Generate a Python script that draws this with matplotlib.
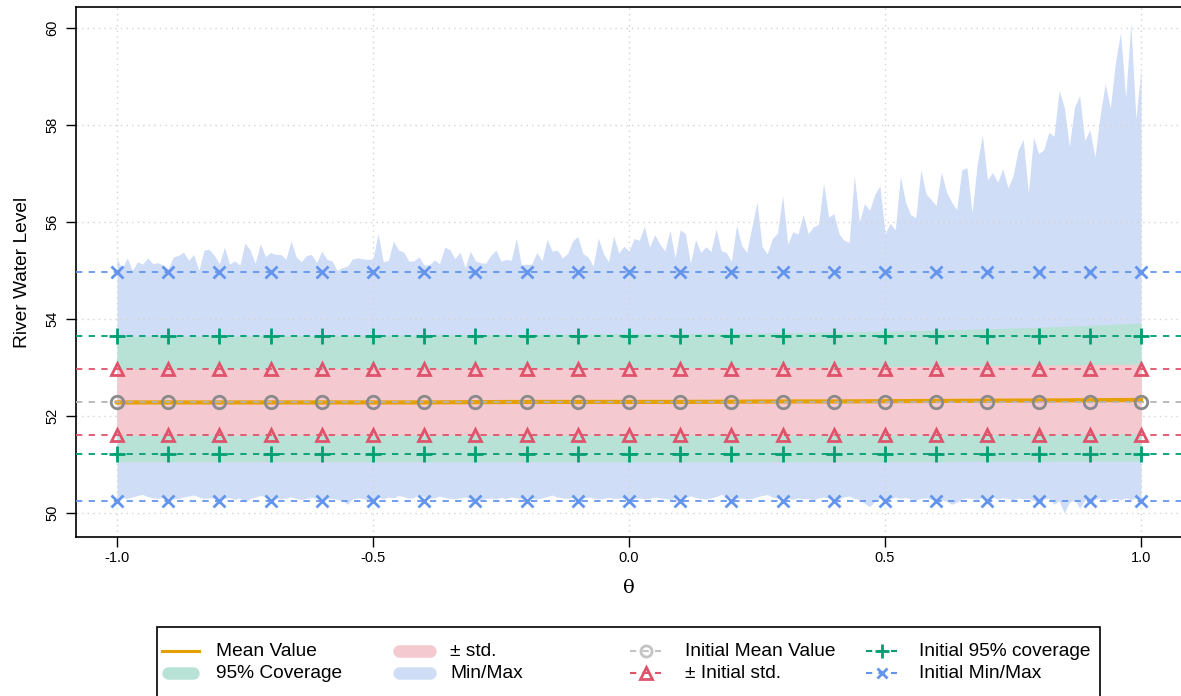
import numpy as np
import matplotlib
matplotlib.use("Agg")
import matplotlib.pyplot as plt
from matplotlib.lines import Line2D
from matplotlib.patches import Rectangle

plt.rcParams['font.family'] = ['Liberation Sans', 'DejaVu Sans']

# fine grid of theta used for the min/max envelope
theta = np.round(np.arange(-100, 101) / 100, 2)

max_vals = [
    55.24, 55.04, 55.26, 55.00, 55.18, 55.13, 55.26, 55.14, 55.16, 55.11,
    55.04, 55.28, 55.31, 55.38, 55.21, 55.33, 55.00, 55.42, 55.44, 55.31,
    55.14, 55.48, 55.13, 55.20, 55.11, 55.57, 55.42, 55.15, 55.55, 55.29,
    55.37, 55.33, 55.33, 55.23, 55.61, 55.28, 55.18, 55.31, 55.33, 55.16,
    55.40, 55.23, 55.20, 55.00, 55.06, 55.09, 55.24, 55.26, 55.24, 55.23,
    55.24, 55.76, 55.18, 55.21, 55.61, 55.42, 55.38, 55.19, 55.20, 55.28,
    55.11, 55.12, 55.22, 55.14, 55.48, 55.43, 55.24, 55.38, 55.06, 55.40,
    55.20, 55.16, 55.15, 55.31, 55.42, 55.19, 55.23, 55.21, 55.66, 55.11,
    55.13, 55.13, 55.37, 55.20, 55.64, 55.40, 55.42, 55.26, 55.35, 55.61,
    55.70, 55.35, 55.28, 55.09, 55.67, 55.35, 55.18, 55.71, 55.36, 55.50,
    55.40, 55.66, 55.62, 55.91, 55.48, 55.74, 55.55, 55.40, 55.83, 55.26,
    55.84, 55.76, 55.15, 55.64, 55.37, 55.49, 55.39, 55.86, 55.41, 55.37,
    55.19, 55.93, 55.52, 55.37, 55.90, 56.41, 55.49, 55.34, 55.66, 55.77,
    56.55, 55.54, 55.80, 55.75, 56.15, 55.76, 55.90, 55.95, 56.80, 56.10,
    56.17, 55.76, 55.62, 55.58, 56.96, 56.00, 56.38, 56.24, 56.57, 56.74,
    55.76, 55.97, 55.84, 56.94, 56.41, 56.15, 56.09, 57.07, 56.58, 56.46,
    56.34, 57.03, 56.62, 56.41, 56.25, 57.08, 57.12, 56.19, 57.19, 57.80,
    56.87, 57.02, 56.82, 57.10, 56.70, 56.95, 57.49, 57.70, 56.60, 57.75,
    57.41, 57.49, 57.85, 57.77, 58.71, 58.37, 57.56, 58.37, 58.61, 57.68,
    57.90, 57.34, 58.20, 58.85, 58.35, 59.29, 59.91, 58.56, 60.10, 58.13,
    59.16,
]

min_vals = [
    50.30, 50.31, 50.30, 50.33, 50.36, 50.38, 50.34, 50.31, 50.30, 50.32,
    50.31, 50.29, 50.30, 50.33, 50.35, 50.37, 50.33, 50.30, 50.31, 50.30,
    50.29, 50.30, 50.32, 50.28, 50.31, 50.22, 50.30, 50.33, 50.36, 50.34,
    50.31, 50.30, 50.29, 50.31, 50.33, 50.30, 50.28, 50.30, 50.32, 50.30,
    50.31, 50.29, 50.30, 50.28, 50.26, 50.18, 50.29, 50.31, 50.30, 50.27,
    50.30, 50.32, 50.29, 50.33, 50.31, 50.36, 50.34, 50.30, 50.32, 50.38,
    50.33, 50.30, 50.31, 50.35, 50.32, 50.30, 50.29, 50.31, 50.33, 50.30,
    50.28, 50.27, 50.30, 50.31, 50.29, 50.32, 50.30, 50.33, 50.31, 50.30,
    50.32, 50.30, 50.29, 50.31, 50.34, 50.37, 50.33, 50.31, 50.30, 50.32,
    50.31, 50.30, 50.33, 50.31, 50.29, 50.30, 50.32, 50.30, 50.31, 50.30,
    50.32, 50.30, 50.31, 50.29, 50.30, 50.33, 50.31, 50.30, 50.28, 50.30,
    50.31, 50.33, 50.35, 50.32, 50.30, 50.29, 50.31, 50.34, 50.38, 50.35,
    50.32, 50.30, 50.31, 50.29, 50.30, 50.33, 50.36, 50.38, 50.33, 50.30,
    50.32, 50.30, 50.28, 50.31, 50.29, 50.30, 50.27, 50.31, 50.33, 50.30,
    50.31, 50.29, 50.33, 50.35, 50.30, 50.28, 50.20, 50.13, 50.24, 50.30,
    50.31, 50.29, 50.33, 50.30, 50.32, 50.29, 50.27, 50.30, 50.31, 50.28,
    50.30, 50.27, 50.24, 50.18, 50.22, 50.29, 50.31, 50.30, 50.28, 50.32,
    50.30, 50.33, 50.29, 50.31, 50.30, 50.27, 50.31, 50.29, 50.30, 50.26,
    50.22, 50.29, 50.30, 50.18, 50.25, 50.00, 50.22, 50.28, 50.10, 50.26,
    50.30, 50.28, 50.31, 50.22, 50.29, 50.30, 50.27, 50.31, 50.28, 50.30,
    50.30,
]

# coarse grid for the smooth bands and the markers
theta_c = np.round(np.arange(-10, 11) / 10, 1)
mean_vals = [52.28, 52.28, 52.28, 52.28, 52.28, 52.28, 52.28, 52.285, 52.29, 52.29, 52.29,
             52.29, 52.295, 52.30, 52.30, 52.305, 52.31, 52.315, 52.32, 52.325, 52.33]
std_hi = [52.97, 52.97, 52.97, 52.975, 52.98, 52.98, 52.98, 52.985, 52.99, 52.99, 52.99,
          53.00, 53.00, 53.01, 53.01, 53.02, 53.03, 53.04, 53.05, 53.06, 53.07]
std_lo = [51.61, 51.61, 51.61, 51.61, 51.61, 51.61, 51.61, 51.61, 51.61, 51.61, 51.61,
          51.61, 51.61, 51.61, 51.615, 51.615, 51.62, 51.62, 51.62, 51.625, 51.63]
cov_hi = [53.64, 53.65, 53.65, 53.66, 53.66, 53.67, 53.67, 53.68, 53.68, 53.69, 53.70,
          53.70, 53.71, 53.72, 53.73, 53.75, 53.77, 53.80, 53.83, 53.87, 53.92]
cov_lo = [51.06, 51.06, 51.06, 51.06, 51.06, 51.06, 51.06, 51.055, 51.055, 51.055, 51.055,
          51.055, 51.055, 51.055, 51.06, 51.06, 51.06, 51.065, 51.065, 51.07, 51.07]

init_mean = 52.29
init_std = [52.96, 51.61]
init_cov = [53.65, 51.21]
init_minmax = [54.96, 50.25]

c_mean = "#E69F00"
c_cov = "#009E73"
c_std = "#DF536B"
c_mm = "#6495ED"
c_grey = "#8A8A8A"
f_cov = "#B9E2D6"
f_std = "#F4C9D0"
f_mm = "#D0DDF7"

W, H = 1181, 696
fig = plt.figure(figsize=(W / 100, H / 100), dpi=100)
ax = fig.add_axes([76 / W, 1 - 537 / H, 1106 / W, 530 / H])

ax.fill_between(theta, min_vals, max_vals, color=f_mm, lw=0, zorder=1)
ax.fill_between(theta_c, cov_lo, cov_hi, color=f_cov, lw=0, zorder=2)
ax.fill_between(theta_c, std_lo, std_hi, color=f_std, lw=0, zorder=3)
ax.plot(theta_c, mean_vals, color=c_mean, lw=3, zorder=4)

dash = (0, (3.5, 3.5))
for yv in init_minmax:
    ax.axhline(yv, color=c_mm, lw=1.3, ls=dash, zorder=5)
    ax.plot(theta_c, [yv] * len(theta_c), ls='none', marker='x', ms=8, mew=2, color=c_mm, zorder=6)
for yv in init_cov:
    ax.axhline(yv, color=c_cov, lw=1.3, ls=dash, zorder=5)
    ax.plot(theta_c, [yv] * len(theta_c), ls='none', marker='+', ms=11, mew=2, color=c_cov, zorder=6)
for yv in init_std:
    ax.axhline(yv, color=c_std, lw=1.3, ls=dash, zorder=5)
    ax.plot(theta_c, [yv] * len(theta_c), ls='none', marker='^', ms=9, mew=2,
            mfc='none', mec=c_std, zorder=6)
ax.axhline(init_mean, color="#B5B5B5", lw=1.3, ls=dash, zorder=5)
ax.plot(theta_c, [init_mean] * len(theta_c), ls='none', marker='o', ms=9, mew=2,
        mfc='none', mec=c_grey, zorder=6)

ax.set_xlim(-1.08, 1.08)
ax.set_ylim(49.505, 60.433)
ax.set_xticks([-1.0, -0.5, 0.0, 0.5, 1.0])
ax.set_xticklabels(["-1.0", "-0.5", "0.0", "0.5", "1.0"])
ax.set_yticks([50, 52, 54, 56, 58, 60])
ax.tick_params(axis='both', direction='out', length=7, width=1, labelsize=10.5)
ax.tick_params(axis='x', pad=3)
ax.tick_params(axis='y', pad=5)
for lab in ax.get_yticklabels():
    lab.set_rotation(90)
    lab.set_va('center')
ax.grid(True, color="#D3D3D3", ls=(0, (1, 3)), lw=1, zorder=7)
for s in ['left', 'bottom', 'top', 'right']:
    ax.spines[s].set_linewidth(1.2)

ax.set_ylabel("River Water Level", fontsize=13.8, labelpad=10)
ax.set_xlabel("θ", fontsize=14, family=['DejaVu Serif'], labelpad=10)

# legend below the plot, laid out like the original
fig.add_artist(Rectangle((157 / W, 1 - 705 / H), (1100 - 157) / W, (705 - 627) / H,
                         transform=fig.transFigure, fill=False, ec='black', lw=1.2))
rows = [651, 673]
cols = [(162, 199, 216), (393, 436, 450), (630, 661, 685), (866, 897, 919)]
entries = [
    ("Mean Value", dict(color=c_mean, lw=2.2)),
    ("95% Coverage", dict(color=f_cov, lw=9, solid_capstyle='round')),
    ("± std.", dict(color=f_std, lw=9, solid_capstyle='round')),
    ("Min/Max", dict(color=f_mm, lw=9, solid_capstyle='round')),
    ("Initial Mean Value", dict(color="#C4C4C4", lw=1.5, ls=(0, (3, 3)))),
    ("± Initial std.", dict(color=c_std, lw=1.5, ls=(0, (3, 3)))),
    ("Initial 95% coverage", dict(color=c_cov, lw=1.5, ls=(0, (3, 3)))),
    ("Initial Min/Max", dict(color=c_mm, lw=1.5, ls=(0, (3, 3)))),
]
markers = [None, None, None, None,
           dict(marker='o', mfc='none', mec="#C4C4C4"),
           dict(marker='^', mfc='none', mec=c_std),
           dict(marker='+', mec=c_cov, ms=10),
           dict(marker='x', mec=c_mm, ms=7)]
for i, (label, style) in enumerate(entries):
    x0, x1, xt = cols[i // 2]
    yp = 1 - rows[i % 2] / H
    if style.get('solid_capstyle') == 'round':
        x0, x1 = x0 + 6, x1 - 6
    fig.add_artist(Line2D([x0 / W, x1 / W], [yp, yp], transform=fig.transFigure, **style))
    if markers[i] is not None:
        mk = dict(ms=8, mew=2)
        mk.update(markers[i])
        fig.add_artist(Line2D([(x0 + x1) / 2 / W], [yp], transform=fig.transFigure,
                              ls='none', **mk))
    fig.text(xt / W, yp, label, fontsize=13.8, va='center', ha='left')

fig.savefig("out.png", dpi=100)
